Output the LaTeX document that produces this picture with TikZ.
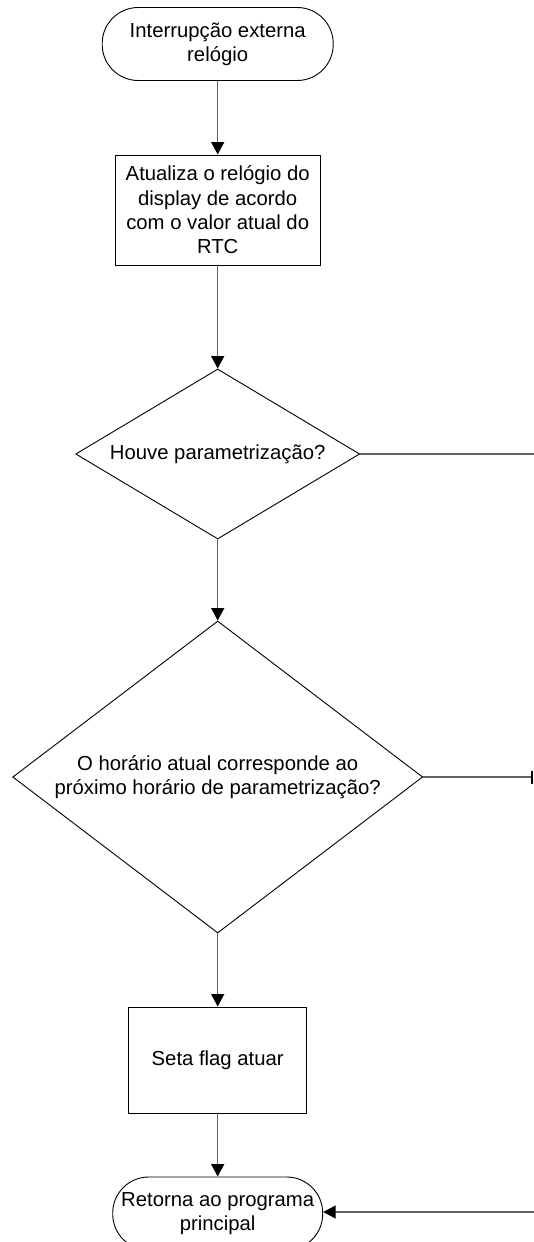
\documentclass[tikz,border=0pt]{standalone}
\usepackage{fontspec}
\setmainfont{Liberation Sans}
\usetikzlibrary{shapes.geometric,arrows.meta}
\begin{document}
\begin{tikzpicture}[x=1pt,y=-1pt,
  every node/.style={font=\fontsize{20.3}{24.3}\selectfont, align=center, inner sep=0pt},
  shapeline/.style={draw=black, line width=0.9pt, fill=white},
  terminal/.style={shapeline, rectangle, rounded corners=36pt, minimum height=73pt},
  process/.style={shapeline, rectangle},
  decision/.style={shapeline, diamond},
  conn/.style={draw=black!62, line width=1.5pt},
  arr/.style={conn, -{Triangle[width=13pt,length=12.5pt,color=black]}},
  barend/.style={conn, -{Bar[width=13pt,line width=2pt,color=black]}}
]
\useasboundingbox (0,0) rectangle (534,1242);
\clip (0,0) rectangle (534,1242);

% start terminal
\node[terminal, minimum width=231pt] (start) at (217.7,44) {Interrupção externa\\relógio};
% update display clock
\node[process, minimum width=205pt, minimum height=110pt] (upd) at (217.7,210)
  {Atualiza o relógio do\\display de acordo\\com o valor atual do\\RTC};
% first decision
\node[decision, aspect=1.67, minimum width=284pt, minimum height=170pt] (dec1) at (217.7,454)
  {Houve parametrização?};
% second decision
\node[decision, aspect=1.31, minimum width=410pt, minimum height=312pt] (dec2) at (217.7,777)
  {O horário atual corresponde ao\\próximo horário de parametrização?};
% set flag
\node[process, minimum width=178pt, minimum height=106pt] (flag) at (217.7,1060) {Seta flag atuar};
% return terminal
\node[terminal, minimum width=210pt] (ret) at (217.7,1213.5) {Retorna ao programa\\principal};

% off-page ends
\coordinate (out1) at (534,454);
\coordinate (out2) at (533,777);
\coordinate (in3) at (534,1212);

% connectors
\draw[arr] (start) -- (upd);
\draw[arr] (upd) -- (dec1);
\draw[arr] (dec1) -- (dec2);
\draw[arr] (dec2) -- (flag);
\draw[arr] (flag) -- (ret);
\draw[conn] (dec1.east) -- (out1);
\draw[barend] (dec2.east) -- (out2);
\draw[arr] (in3) -- (ret.east |- in3);
\end{tikzpicture}
\end{document}
